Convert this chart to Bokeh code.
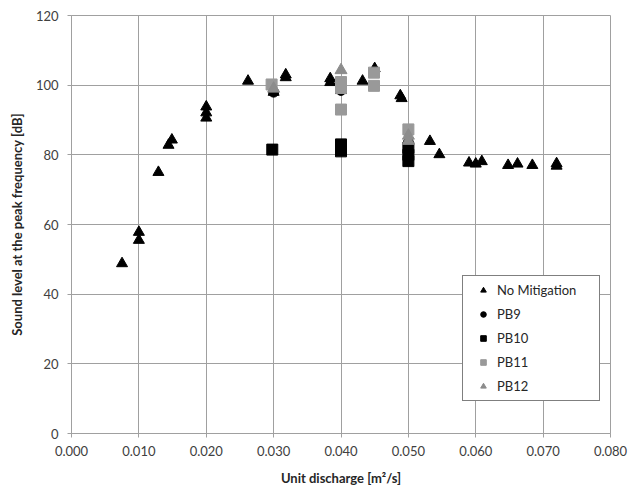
from bokeh.plotting import figure
from bokeh.models import FixedTicker, NumeralTickFormatter, Range1d, Legend, LegendItem
from bokeh.embed import file_html
from bokeh.resources import INLINE

# --- data ---
no_mit_x = [0.0075, 0.0100, 0.0100, 0.0129, 0.0144, 0.0149, 0.0200, 0.0200, 0.0200,
            0.0262, 0.0300, 0.0318, 0.0318, 0.0384, 0.0384, 0.0400, 0.0432, 0.0450,
            0.0488, 0.0490, 0.0500, 0.0532, 0.0546, 0.0590, 0.0600, 0.0609, 0.0648,
            0.0662, 0.0684, 0.0720, 0.0720]
no_mit_y = [48.8, 57.8, 55.5, 75.0, 82.8, 84.3, 93.8, 92.1, 90.6,
            101.2, 98.0, 103.0, 102.2, 101.9, 100.8, 98.5, 101.2, 104.8,
            97.0, 96.2, 84.0, 83.9, 80.1, 77.7, 77.4, 78.1, 77.0,
            77.4, 77.0, 77.5, 76.8]

pb9_x = [0.0300, 0.0400, 0.0500]
pb9_y = [98.0, 98.5, 83.5]

pb10_x = [0.0298, 0.0400, 0.0400, 0.0500, 0.0500, 0.0500]
pb10_y = [81.5, 83.0, 81.0, 82.0, 80.0, 78.2]

pb11_x = [0.0297, 0.0400, 0.0400, 0.0400, 0.0449, 0.0449, 0.0500]
pb11_y = [100.2, 100.9, 99.2, 93.0, 103.6, 99.8, 87.3]

pb12_x = [0.0300, 0.0400, 0.0500, 0.0500]
pb12_y = [99.0, 104.3, 85.5, 84.0]

x_ticks = [0.0, 0.01, 0.02, 0.03, 0.04, 0.05, 0.06, 0.07, 0.08]
y_ticks = [0, 20, 40, 60, 80, 100, 120]

FONT = "Lato"
GRID = "#a0a0a0"
TXT = "#404040"

p = figure(width=631, height=491, output_backend="svg", toolbar_location=None,
           x_range=Range1d(0, 0.08), y_range=Range1d(0, 120),
           min_border_left=71, min_border_right=21, min_border_top=15, min_border_bottom=58)

p.outline_line_color = GRID
p.background_fill_color = "white"
p.border_fill_color = "white"

for ax in (p.xaxis[0], p.yaxis[0]):
    ax.axis_line_color = GRID
    ax.major_tick_line_color = GRID
    ax.major_tick_out = 4
    ax.major_tick_in = 0
    ax.minor_tick_line_color = None
    ax.major_label_text_font = FONT
    ax.major_label_text_font_size = "13px"
    ax.major_label_text_color = TXT
    ax.axis_label_text_font = FONT
    ax.axis_label_text_font_size = "13px"
    ax.axis_label_text_font_style = "bold"
    ax.axis_label_text_color = "#262626"

p.xaxis.ticker = FixedTicker(ticks=x_ticks)
p.yaxis.ticker = FixedTicker(ticks=y_ticks)
p.xaxis.formatter = NumeralTickFormatter(format="0.000")
p.xaxis.axis_label = "Unit discharge [m²/s]"
p.yaxis.axis_label = "Sound level at the peak frequency [dB]"
p.xaxis.major_label_standoff = 8
p.xaxis.axis_label_standoff = 11
p.yaxis.major_label_standoff = 9
p.yaxis.axis_label_standoff = 8

p.xgrid.grid_line_color = GRID
p.ygrid.grid_line_color = GRID

r0 = p.scatter(no_mit_x, no_mit_y, marker="triangle", size=11, fill_color="black", line_color="black")
r1 = p.scatter(pb9_x, pb9_y, marker="circle", size=10, fill_color="black", line_color="black")
r2 = p.scatter(pb10_x, pb10_y, marker="square", size=11, fill_color="black", line_color="black")
r3 = p.scatter(pb11_x, pb11_y, marker="square", size=11, fill_color="#999999", line_color="#999999")
r4 = p.scatter(pb12_x, pb12_y, marker="triangle", size=12, fill_color="#8c8c8c", line_color="#8c8c8c")

legend = Legend(items=[
    LegendItem(label="No Mitigation", renderers=[r0]),
    LegendItem(label="PB9", renderers=[r1]),
    LegendItem(label="PB10", renderers=[r2]),
    LegendItem(label="PB11", renderers=[r3]),
    LegendItem(label="PB12", renderers=[r4]),
], location=(391, 32))
legend.border_line_color = "black"
legend.border_line_width = 1
legend.background_fill_color = "white"
legend.background_fill_alpha = 1
legend.label_text_font = FONT
legend.label_text_font_size = "13px"
legend.label_text_color = "#262626"
legend.glyph_width = 28
legend.glyph_height = 14
legend.label_height = 14
legend.label_width = 96
legend.spacing = 8
legend.padding = 6
legend.margin = 0
legend.label_standoff = 0
p.add_layout(legend, "center")

open("out.html", "w").write(file_html(p, INLINE))
